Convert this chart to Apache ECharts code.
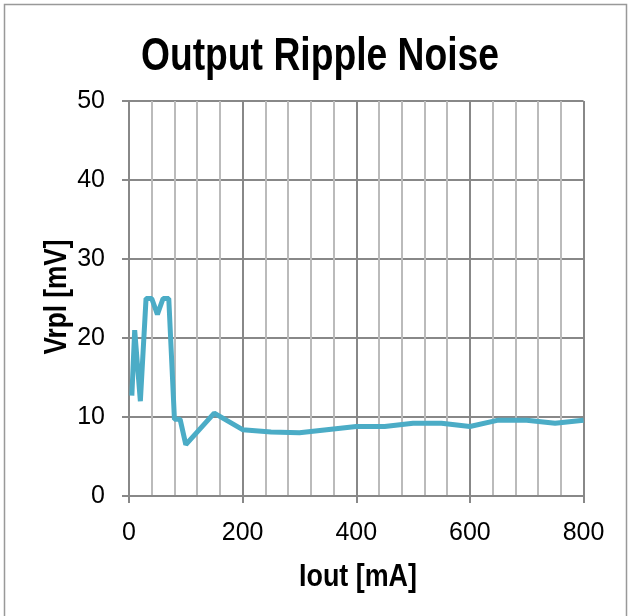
<!DOCTYPE html>
<html>
<head>
<meta charset="utf-8">
<script src="https://cdn.jsdelivr.net/npm/echarts@6/dist/echarts.min.js"></script>
<style>
html,body{margin:0;padding:0;background:#fff;}
#c{width:629px;height:616px;}
</style>
</head>
<body>
<div id="c"></div>
<script>
const iout = [5, 10, 20, 30, 40, 50, 60, 70, 80, 90, 100, 150, 200, 250, 300, 400, 450, 500, 550, 600, 650, 700, 750, 800];
const vrpl = [12.7, 21, 12, 25, 25, 23, 25, 25, 9.7, 9.7, 6.5, 10.5, 8.4, 8.1, 8.0, 8.8, 8.8, 9.2, 9.2, 8.8, 9.6, 9.6, 9.2, 9.6];
const xTicks = [0, 200, 400, 600, 800];
const yTicks = [0, 10, 20, 30, 40, 50];
const titleText = 'Output Ripple Noise';
const xName = 'Iout [mA]';
const yName = 'Vrpl [mV]';

const chart = echarts.init(document.getElementById('c'));
const font = '"Liberation Sans", Arial, sans-serif';
chart.setOption({
  animation: false,
  graphic: [
    {
      type: 'rect',
      shape: { x: 4.5, y: 4.5, width: 622, height: 620 },
      style: { fill: 'none', stroke: '#999', lineWidth: 1.5 },
      silent: true
    },
    {
      type: 'text', x: 320, y: 57.5, scaleX: 0.81,
      style: { text: titleText, font: 'bold 46px ' + font, fill: '#000', textAlign: 'center', textVerticalAlign: 'middle' },
      silent: true
    },
    {
      type: 'text', x: 358, y: 577, scaleX: 0.84,
      style: { text: xName, font: 'bold 32px ' + font, fill: '#000', textAlign: 'center', textVerticalAlign: 'middle' },
      silent: true
    },
    {
      type: 'text', x: 57, y: 297, scaleX: 0.82, rotation: Math.PI / 2,
      style: { text: yName, font: 'bold 32px ' + font, fill: '#000', textAlign: 'center', textVerticalAlign: 'middle' },
      silent: true
    }
  ],
  grid: { left: 129, right: 45.5, top: 101, bottom: 120 },
  xAxis: {
    type: 'value', min: 0, max: 800, interval: 200,
    axisLine: { show: true, lineStyle: { color: '#888', width: 2 } },
    axisTick: { show: true, inside: false, length: 7, lineStyle: { color: '#888', width: 2 } },
    axisLabel: { fontFamily: font, fontSize: 25, color: '#000', margin: 25 },
    splitLine: { show: true, lineStyle: { color: '#888', width: 2 } },
    minorTick: { show: false, splitNumber: 5 },
    minorSplitLine: { show: true, lineStyle: { color: '#bbb', width: 2 } }
  },
  yAxis: {
    type: 'value', min: 0, max: 50, interval: 10,
    axisLine: { show: true, lineStyle: { color: '#888', width: 2 } },
    axisTick: { show: true, inside: false, length: 7, lineStyle: { color: '#888', width: 2 } },
    axisLabel: { fontFamily: font, fontSize: 25, color: '#000', margin: 24 },
    splitLine: { show: true, lineStyle: { color: '#888', width: 2 } }
  },
  series: [{
    type: 'line',
    data: iout.map((x, i) => [x, vrpl[i]]),
    showSymbol: false,
    lineStyle: { color: '#4BACC6', width: 5 },
    itemStyle: { color: '#4BACC6' }
  }]
});
</script>
</body>
</html>
